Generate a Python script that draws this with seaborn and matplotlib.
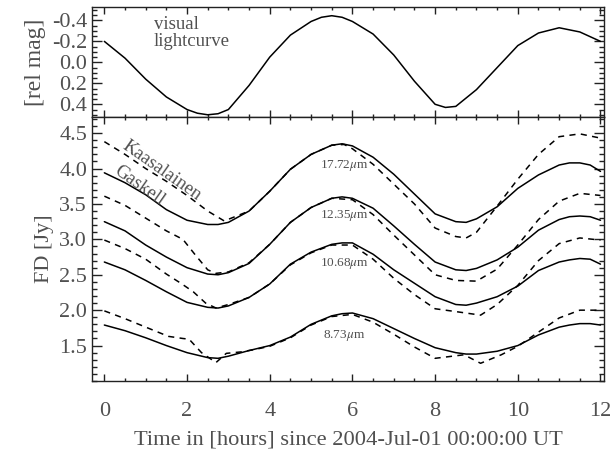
import numpy as np
import pandas as pd
import matplotlib
matplotlib.use('Agg')
import matplotlib.pyplot as plt
from matplotlib.ticker import MultipleLocator
import seaborn as sns

# visual lightcurve [rel mag]
t_light = [0, 0.5, 1.0, 1.5, 2.0, 2.25, 2.5, 2.75, 3.0, 3.5, 4.0, 4.5, 5.0, 5.25, 5.5, 5.75,
           6.0, 6.5, 7.0, 7.5, 8.0, 8.25, 8.5, 9.0, 9.5, 10.0, 10.5, 11.0, 11.5, 12.0]
lightcurve = [-0.20, -0.04, 0.16, 0.33, 0.45, 0.485, 0.50, 0.49, 0.45, 0.22, -0.05, -0.26, -0.39,
              -0.43, -0.445, -0.43, -0.39, -0.27, -0.07, 0.18, 0.40, 0.43, 0.42, 0.26, 0.05,
              -0.16, -0.28, -0.33, -0.29, -0.20]

# Gaskell shape model (solid)
t_gas = [0, 0.5, 1.0, 1.5, 2.0, 2.5, 2.75, 3.0, 3.5, 4.0, 4.5, 5.0, 5.5, 5.75, 6.0, 6.5, 7.0,
         7.5, 8.0, 8.5, 8.75, 9.0, 9.5, 10.0, 10.5, 11.0, 11.25, 11.5, 11.75, 12.0]
gas_1772 = [3.94, 3.80, 3.63, 3.42, 3.27, 3.21, 3.21, 3.24, 3.40, 3.68, 3.99, 4.20, 4.33, 4.35,
            4.32, 4.16, 3.92, 3.64, 3.36, 3.25, 3.24, 3.29, 3.46, 3.72, 3.91, 4.05, 4.08, 4.08,
            4.05, 3.96]
gas_1235 = [3.25, 3.12, 2.92, 2.75, 2.60, 2.51, 2.50, 2.53, 2.66, 2.93, 3.24, 3.45, 3.58, 3.60,
            3.58, 3.44, 3.19, 2.93, 2.68, 2.57, 2.56, 2.59, 2.71, 2.89, 3.13, 3.28, 3.32, 3.33,
            3.32, 3.27]
gas_1068 = [2.68, 2.57, 2.42, 2.26, 2.11, 2.04, 2.03, 2.06, 2.18, 2.37, 2.65, 2.82, 2.93, 2.95,
            2.95, 2.79, 2.57, 2.38, 2.19, 2.08, 2.07, 2.10, 2.19, 2.34, 2.56, 2.68, 2.71, 2.73,
            2.72, 2.65]
gas_873 = [1.79, 1.71, 1.61, 1.50, 1.40, 1.33, 1.32, 1.35, 1.43, 1.50, 1.62, 1.80, 1.92, 1.95,
           1.96, 1.88, 1.74, 1.60, 1.47, 1.40, 1.38, 1.38, 1.42, 1.50, 1.65, 1.76, 1.79, 1.81,
           1.81, 1.79]

# Kaasalainen shape model (dashed)
t_kaa_1772 = [0, 0.5, 1.0, 1.5, 2.0, 2.5, 2.9, 3.5, 4.0, 4.5, 5.0, 5.5, 5.8, 6.0, 6.5, 7.0,
              7.5, 8.0, 8.5, 8.75, 9.0, 9.5, 10.0, 10.5, 11.0, 11.5, 12.0]
kaa_1772 = [4.38, 4.20, 4.00, 3.82, 3.62, 3.40, 3.26, 3.40, 3.68, 3.99, 4.20, 4.33, 4.34, 4.28,
            4.06, 3.78, 3.50, 3.16, 3.04, 3.02, 3.10, 3.47, 3.85, 4.20, 4.45, 4.49, 4.43]
t_kaa_1235 = [0, 0.5, 1.0, 1.5, 1.9, 2.2, 2.5, 2.7, 3.0, 3.5, 4.0, 4.5, 5.0, 5.5, 6.0, 6.5,
              7.0, 7.5, 8.0, 8.5, 9.0, 9.5, 10.0, 10.5, 11.0, 11.5, 12.0]
kaa_1235 = [3.61, 3.48, 3.30, 3.12, 3.00, 2.78, 2.57, 2.52, 2.54, 2.67, 2.93, 3.24, 3.45, 3.58,
            3.56, 3.35, 3.06, 2.78, 2.50, 2.42, 2.41, 2.58, 2.92, 3.28, 3.54, 3.65, 3.62]
t_kaa_1068 = [0, 0.5, 1.0, 1.5, 1.85, 2.15, 2.45, 2.7, 3.0, 3.5, 4.0, 4.5, 5.0, 5.5, 6.0, 6.5,
              7.0, 7.5, 8.0, 8.5, 9.1, 9.5, 10.0, 10.5, 11.0, 11.5, 12.0]
kaa_1068 = [2.99, 2.87, 2.72, 2.51, 2.38, 2.26, 2.10, 2.03, 2.08, 2.18, 2.37, 2.64, 2.81, 2.92,
            2.92, 2.72, 2.45, 2.22, 2.02, 1.98, 1.93, 2.08, 2.35, 2.70, 2.94, 3.02, 2.99]
t_kaa_873 = [0, 0.5, 0.75, 1.55, 1.9, 2.05, 2.35, 2.7, 2.95, 3.3, 3.6, 4.0, 4.5, 5.0, 5.5, 6.0,
             6.5, 7.0, 7.5, 8.0, 8.7, 9.1, 9.6, 10.0, 10.5, 11.0, 11.5, 11.9, 12.0]
kaa_873 = [1.99, 1.88, 1.82, 1.63, 1.60, 1.59, 1.40, 1.26, 1.39, 1.41, 1.44, 1.49, 1.61, 1.79,
           1.91, 1.94, 1.83, 1.66, 1.48, 1.32, 1.37, 1.25, 1.37, 1.49, 1.69, 1.89, 2.00, 2.00, 1.98]

wavelengths = ['17.72$\\mu$m', '12.35$\\mu$m', '10.68$\\mu$m', '8.73$\\mu$m']
label_y = [4.05, 3.34, 2.66, 1.64]

sns.set_style("ticks")
plt.rcParams['font.family'] = ['Liberation Serif', 'DejaVu Serif']
plt.rcParams['mathtext.fontset'] = 'stix'

txt = '#505050'
fig = plt.figure(figsize=(6.13, 4.53), dpi=100)
ax1 = fig.add_axes([0.150, 0.742, 0.835, 0.243])
ax2 = fig.add_axes([0.150, 0.159, 0.835, 0.583])

# top panel: visual lightcurve
sns.lineplot(x=t_light, y=lightcurve, ax=ax1, color='k', lw=1.1)
ax1.set_xlim(-0.3, 12.08)
ax1.set_ylim(0.52, -0.53)
ax1.yaxis.set_minor_locator(MultipleLocator(0.05))
ax1.xaxis.set_major_locator(MultipleLocator(2))
ax1.xaxis.set_minor_locator(MultipleLocator(0.5))
ax1.set_xticklabels([])
ax1.set_yticks([-0.4, -0.2, 0.0, 0.2, 0.4])
ax1.set_yticklabels(['-0.4', '-0.2', '0.0', '0.2', '0.4'])
ax1.set_ylabel('[rel mag]', fontsize=17, color=txt, labelpad=4)
ax1.text(1.2, -0.28, 'visual\nlightcurve', fontsize=13.5, color=txt, va='center', linespacing=1.0)

# bottom panel: thermal fluxes
gaskell = [gas_1772, gas_1235, gas_1068, gas_873]
kaasalainen = [(t_kaa_1772, kaa_1772), (t_kaa_1235, kaa_1235),
               (t_kaa_1068, kaa_1068), (t_kaa_873, kaa_873)]
for g in gaskell:
    sns.lineplot(x=t_gas, y=g, ax=ax2, color='k', lw=1.1)
for tk, k in kaasalainen:
    sns.lineplot(x=tk, y=k, ax=ax2, color='k', lw=1.1, linestyle=(0, (4, 3.5)))
for w, ly in zip(wavelengths, label_y):
    ax2.text(5.8, ly, w, fontsize=9.5, color=txt, ha='center', va='center')
ax2.text(1.4, 3.97, 'Kaasalainen', fontsize=13.5, color=txt, rotation=-35,
         ha='center', va='center', rotation_mode='anchor')
ax2.text(0.85, 3.76, 'Gaskell', fontsize=13.5, color=txt, rotation=-35,
         ha='center', va='center', rotation_mode='anchor')

ax2.set_xlim(-0.3, 12.08)
ax2.set_ylim(1.0, 4.73)
ax2.xaxis.set_major_locator(MultipleLocator(2))
ax2.xaxis.set_minor_locator(MultipleLocator(0.5))
ax2.yaxis.set_minor_locator(MultipleLocator(0.1))
ax2.set_yticks([1.5, 2.0, 2.5, 3.0, 3.5, 4.0, 4.5])
ax2.set_ylabel('FD [Jy]', fontsize=16, color=txt, labelpad=4)
ax2.set_xlabel('Time in [hours] since 2004-Jul-01 00:00:00 UT', fontsize=16.2, color=txt, labelpad=7)

for ax in (ax1, ax2):
    ax.tick_params(which='both', direction='in', top=True, right=True, colors='#222222',
                   labelcolor=txt, labelsize=16, width=1.0)
    ax.tick_params(axis='y', which='major', length=7)
    ax.tick_params(axis='y', which='minor', length=3.5)
    ax.tick_params(axis='x', which='major', length=5, pad=15)
    ax.tick_params(axis='x', which='minor', length=2.5)
    for s in ax.spines.values():
        s.set_color('#222222')
        s.set_linewidth(1.0)

fig.savefig('out.png', dpi=100)
